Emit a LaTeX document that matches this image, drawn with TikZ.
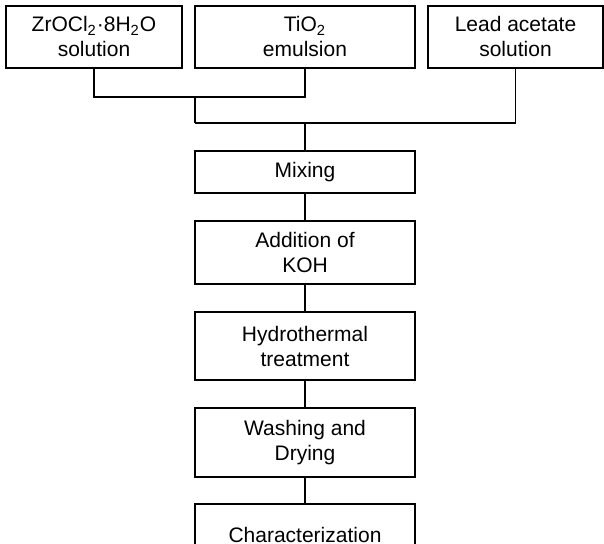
\documentclass[tikz,border=0pt]{standalone}
\usepackage{fontspec}
\setmainfont{Liberation Sans}
\tikzset{
    stepbox/.style={draw, line width=0.6pt, align=center, inner sep=0pt,
        font=\fontsize{10.5}{12.5}\selectfont},
    link/.style={line width=0.6pt}
}

\begin{document}
\begin{tikzpicture}[x=0.5pt,y=-0.5pt]
    % Page frame
    \useasboundingbox (0,0) rectangle (604,544);
    \clip (0,0) rectangle (604,544);
    % Starting solutions
    \node[stepbox, minimum width=88pt, minimum height=31pt] (zr) at (94,37) {ZrOCl\textsubscript{2}·8H\textsubscript{2}O\\solution};
    \node[stepbox, minimum width=110pt, minimum height=31pt] (ti) at (305,37) {TiO\textsubscript{2}\\emulsion};
    \node[stepbox, minimum width=87.5pt, minimum height=31pt] (lead) at (515.5,37) {Lead acetate\\solution};
    % Process steps
    \node[stepbox, minimum width=110pt, minimum height=21pt] (mix) at (305,172) {Mixing};
    \node[stepbox, minimum width=110pt, minimum height=31.5pt] (koh) at (305,252.5) {Addition of\\KOH};
    \node[stepbox, minimum width=110pt, minimum height=34pt] (hydro) at (305,346) {Hydrothermal\\treatment};
    \node[stepbox, minimum width=110pt, minimum height=34.5pt] (wash) at (305,442.5) {Washing and\\Drying};
    \node[stepbox, minimum width=110pt, minimum height=31pt] (char) at (305,535) {Characterization};
    % Joining lines
    \coordinate (j1) at (195,97);
    \coordinate (j2) at (195,123);
    \draw[link] (zr.south) |- (j1) -| (ti.south);
    \draw[link] (j1) -- (j2);
    \draw[link] (j2) -| (lead.south);
    \draw[link] (mix.north |- j2) -- (mix.north);
    \draw[link] (mix) -- (koh);
    \draw[link] (koh) -- (hydro);
    \draw[link] (hydro) -- (wash);
    \draw[link] (wash) -- (char);
\end{tikzpicture}
\end{document}
